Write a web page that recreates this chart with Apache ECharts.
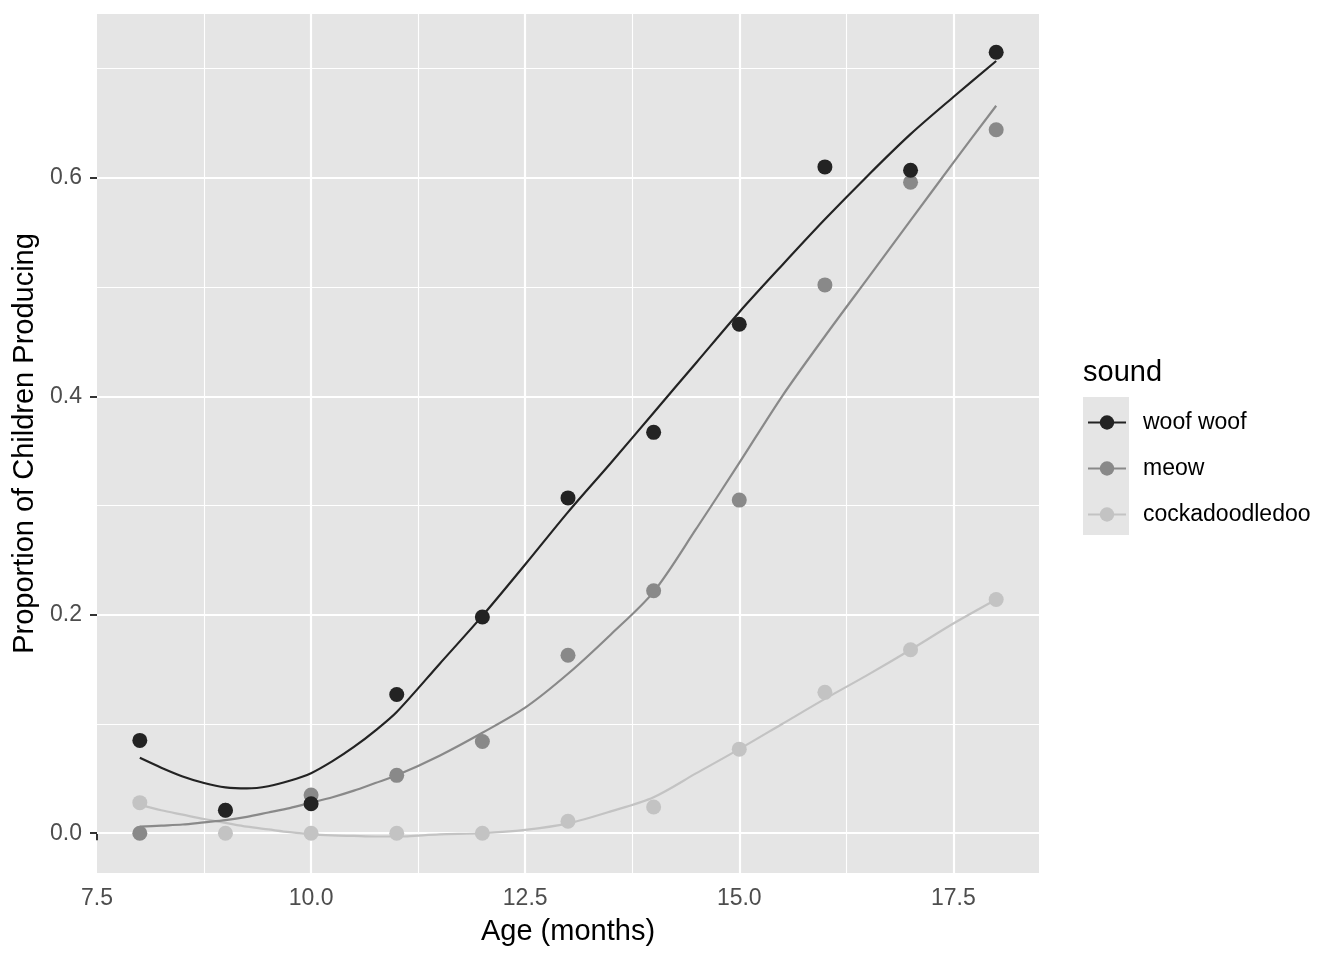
<!DOCTYPE html>
<html>
<head>
<meta charset="utf-8">
<script src="https://cdn.jsdelivr.net/npm/echarts@6/dist/echarts.min.js"></script>
<style>
html,body{margin:0;padding:0;background:#ffffff;}
#chart{width:1344px;height:960px;}
</style>
</head>
<body>
<div id="chart"></div>
<script>
// ---- data ----
const soundNames = ['woof woof', 'meow', 'cockadoodledoo'];
const ages = [8, 9, 10, 11, 12, 13, 14, 15, 16, 17, 18];
const woofPoints = [0.085, 0.021, 0.027, 0.127, 0.198, 0.307, 0.367, 0.466, 0.610, 0.607, 0.715];
const meowPoints = [0.000, 0.021, 0.035, 0.053, 0.084, 0.163, 0.222, 0.305, 0.502, 0.596, 0.644];
const cockPoints = [0.028, 0.000, 0.000, 0.000, 0.000, 0.011, 0.024, 0.077, 0.129, 0.168, 0.214];

// smoothed (loess) curves
const fitAges = [8, 8.25, 8.5, 8.75, 9, 9.25, 9.5, 9.75, 10, 10.25, 10.5, 10.75, 11, 11.5, 12, 12.5, 13, 13.5, 14, 14.5, 15, 15.5, 16, 16.5, 17, 17.5, 18];
const woofFit = [0.069, 0.060, 0.052, 0.046, 0.042, 0.041, 0.043, 0.048, 0.055, 0.066, 0.079, 0.094, 0.111, 0.155, 0.199, 0.246, 0.294, 0.339, 0.385, 0.431, 0.477, 0.520, 0.562, 0.602, 0.640, 0.674, 0.707];
const meowFit = [0.006, 0.007, 0.008, 0.010, 0.012, 0.015, 0.019, 0.023, 0.028, 0.033, 0.039, 0.046, 0.053, 0.071, 0.092, 0.115, 0.146, 0.182, 0.221, 0.279, 0.339, 0.400, 0.455, 0.508, 0.561, 0.614, 0.666];
const cockFit = [0.026, 0.021, 0.017, 0.013, 0.0095, 0.006, 0.0035, 0.001, -0.001, -0.002, -0.0025, -0.003, -0.003, -0.001, 0.000, 0.003, 0.009, 0.020, 0.033, 0.055, 0.077, 0.100, 0.123, 0.145, 0.168, 0.192, 0.214];

// axis ticks
const xMajorTicks = [7.5, 10, 12.5, 15, 17.5];
const xMinorTicks = [8.75, 11.25, 13.75, 16.25];
const yMajorTicks = [0, 0.2, 0.4, 0.6];
const yMinorTicks = [0.1, 0.3, 0.5, 0.7];
const xRange = [7.5, 18.5];
const yRange = [-0.0364, 0.750];

const colors = {'woof woof': '#232323', 'meow': '#898989', 'cockadoodledoo': '#c3c3c3'};
const FONT = '"Liberation Sans", Arial, Helvetica, sans-serif';

const pointsBySound = {'woof woof': woofPoints, 'meow': meowPoints, 'cockadoodledoo': cockPoints};
const fitBySound = {'woof woof': woofFit, 'meow': meowFit, 'cockadoodledoo': cockFit};

function pairs(xs, ys) { return xs.map((x, i) => [x, ys[i]]); }

// grid lines drawn through the axes' scales
const gridLines = [];
xMinorTicks.forEach(v => gridLines.push({xAxis: v, lineStyle: {color: '#ffffff', width: 1.1, type: 'solid'}}));
yMinorTicks.forEach(v => gridLines.push({yAxis: v, lineStyle: {color: '#ffffff', width: 1.1, type: 'solid'}}));
xMajorTicks.filter(v => v > xRange[0]).forEach(v => gridLines.push({xAxis: v, lineStyle: {color: '#ffffff', width: 2.2, type: 'solid'}}));
yMajorTicks.forEach(v => gridLines.push({yAxis: v, lineStyle: {color: '#ffffff', width: 2.2, type: 'solid'}}));

const series = [];
series.push({
  name: '_grid', type: 'line', data: [], silent: true, z: 1,
  markLine: {silent: true, symbol: 'none', z: 1, label: {show: false}, emphasis: {disabled: true}, animation: false, data: gridLines}
});
// draw order: cockadoodledoo first, woof woof last (on top)
const drawOrder = ['cockadoodledoo', 'meow', 'woof woof'];
drawOrder.forEach(name => {
  series.push({
    name: name, type: 'line', data: pairs(fitAges, fitBySound[name]),
    smooth: 0.3, showSymbol: false, symbol: 'circle', symbolSize: 13,
    lineStyle: {color: colors[name], width: 2.2},
    itemStyle: {color: colors[name]},
    z: 2, silent: true, animation: false
  });
});
drawOrder.forEach(name => {
  series.push({
    name: name, type: 'scatter', data: pairs(ages, pointsBySound[name]),
    symbol: 'circle', symbolSize: 15,
    itemStyle: {color: colors[name], opacity: 1},
    z: 3, silent: true, animation: false
  });
});

const chart = echarts.init(document.getElementById('chart'), null, {renderer: 'canvas'});
chart.setOption({
  animation: false,
  backgroundColor: '#ffffff',
  grid: {left: 97, right: 305, top: 14, bottom: 87, show: true, backgroundColor: '#e5e5e5', borderWidth: 0},
  xAxis: {
    type: 'value', min: xRange[0], max: xRange[1],
    name: 'Age (months)', nameLocation: 'middle', nameGap: 44,
    nameTextStyle: {fontFamily: FONT, fontSize: 29, color: '#000000'},
    axisLine: {show: false},
    axisTick: {show: true, customValues: xMajorTicks, length: 7, lineStyle: {color: '#333333', width: 2}},
    axisLabel: {show: true, customValues: xMajorTicks, margin: 14, fontFamily: FONT, fontSize: 23, color: '#4d4d4d',
      formatter: v => v.toFixed(1)},
    splitLine: {show: false}, minorSplitLine: {show: false}
  },
  yAxis: {
    type: 'value', min: yRange[0], max: yRange[1],
    name: 'Proportion of Children Producing', nameLocation: 'middle', nameGap: 51,
    nameTextStyle: {fontFamily: FONT, fontSize: 29, color: '#000000'},
    axisLine: {show: false},
    axisTick: {show: true, customValues: yMajorTicks, length: 7, lineStyle: {color: '#333333', width: 2}},
    axisLabel: {show: true, customValues: yMajorTicks, margin: 15, fontFamily: FONT, fontSize: 23, color: '#4d4d4d',
      formatter: v => v.toFixed(1)},
    splitLine: {show: false}, minorSplitLine: {show: false}
  },
  legend: {
    data: soundNames.map(n => ({name: n})),
    orient: 'vertical', left: 1082, top: 406,
    itemWidth: 38, itemHeight: 18, itemGap: 23,
    selectedMode: false,
    textStyle: {fontFamily: FONT, fontSize: 23, color: '#000000', lineHeight: 23, padding: [0, 0, 0, 12]}
  },
  graphic: [
    {type: 'rect', left: 1083, top: 397, shape: {width: 46, height: 138}, style: {fill: '#e5e5e5'}, z: 0, silent: true},
    {type: 'text', left: 1083, top: 358, style: {text: 'sound', fontFamily: FONT, fontSize: 29, fill: '#000000'}, silent: true}
  ],
  series: series
});
</script>
</body>
</html>
